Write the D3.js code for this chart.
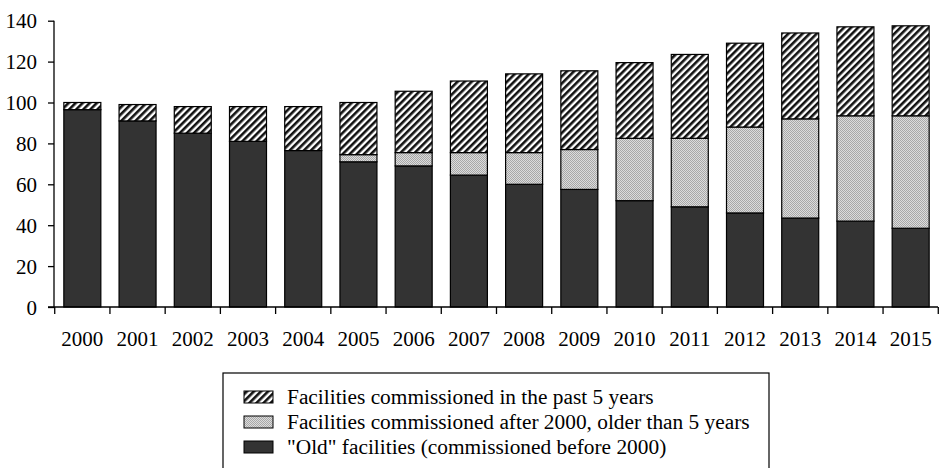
<!DOCTYPE html>
<html><head><meta charset="utf-8">
<script src="https://cdn.jsdelivr.net/npm/d3@7"></script>
<style>body{margin:0;background:#fff}svg{display:block}</style>
</head><body><svg id="c" width="939" height="468"></svg>
<script>
const years = ["2000","2001","2002","2003","2004","2005","2006","2007","2008","2009","2010","2011","2012","2013","2014","2015"];
const oldFacilities = [96.5,91,85,81,76.5,71,69,64.5,60,57.5,52,49,46,43.5,42,38.5];
const after2000Older = [0,0,0,0,0,3.5,6.5,11,15.5,19.5,30.5,33.5,42,48.5,51.5,55];
const past5Years = [3.5,8,13,17,21.5,25.5,30,35,38.5,38.5,37,41,41,42,43.5,44];
const yTicks = [0,20,40,60,80,100,120,140];
const seriesLabels = ["Facilities commissioned in the past 5 years","Facilities commissioned after 2000, older than 5 years","\"Old\" facilities (commissioned before 2000)"];

const FONT = "Liberation Serif";
const svg = d3.select("#c");
const defs = svg.append("defs");
const hatch = defs.append("pattern").attr("id","hatch").attr("patternUnits","userSpaceOnUse")
  .attr("width",5).attr("height",5).attr("patternTransform","rotate(45)");
hatch.append("rect").attr("width",5).attr("height",5).attr("fill","#fff");
hatch.append("rect").attr("width",2.6).attr("height",5).attr("fill","#111");
const dots = defs.append("pattern").attr("id","dots").attr("patternUnits","userSpaceOnUse")
  .attr("width",2).attr("height",2);
dots.append("rect").attr("width",2).attr("height",2).attr("fill","#dcdcdc");
dots.append("rect").attr("width",1).attr("height",1).attr("fill","#a8a8a8");
dots.append("rect").attr("x",1).attr("y",1).attr("width",1).attr("height",1).attr("fill","#a8a8a8");

const x = d3.scaleBand().domain(years).range([55,938]).paddingInner(0.33).paddingOuter(0.16);
const y = d3.scaleLinear().domain([0,140]).range([307,20.7]);

const data = years.map((yr,i)=>({year:yr, old:oldFacilities[i], mid:after2000Older[i], new:past5Years[i]}));
const stack = d3.stack().keys(["old","mid","new"])(data);
const fills = {old:"#333333", mid:"url(#dots)", new:"url(#hatch)"};

stack.forEach(layer=>{
  svg.append("g").selectAll("rect").data(layer.filter(d=>d[1]-d[0]>0)).join("rect")
    .attr("x",d=>x(d.data.year)).attr("width",x.bandwidth())
    .attr("y",d=>y(d[1])).attr("height",d=>y(d[0])-y(d[1]))
    .attr("fill",fills[layer.key]).attr("stroke","#000").attr("stroke-width",1.2);
});

// y axis
const ya = svg.append("g").attr("transform","translate(54,0)")
  .call(d3.axisLeft(y).tickValues(yTicks).tickSize(6).tickPadding(11));
ya.select(".domain").attr("stroke","#000").attr("stroke-width",1.3).attr("d","M0,"+y(140)+"V"+y(0));
ya.selectAll("text").style("font-family",FONT).style("font-size","21px").attr("dy","0.34em").attr("fill","#000");
ya.selectAll("line").attr("stroke","#000").attr("stroke-width",1.3);

// x axis
const xa = svg.append("g").attr("transform","translate(0,307)");
xa.append("line").attr("x1",48).attr("x2",938).attr("stroke","#000").attr("stroke-width",1.3);
const bounds = years.map(yr=>x(yr)-x.step()*x.paddingInner()/2);
bounds.push(x(years[years.length-1])+x.bandwidth()+x.step()*x.paddingInner()/2);
xa.selectAll("line.t").data(bounds).join("line").attr("class","t")
  .attr("x1",d=>d).attr("x2",d=>d).attr("y1",0).attr("y2",7).attr("stroke","#000").attr("stroke-width",1.3);
xa.selectAll("text").data(years).join("text")
  .attr("x",d=>x(d)+x.bandwidth()/2).attr("y",38.5).attr("text-anchor","middle")
  .style("font-family",FONT).style("font-size","21px").text(d=>d);

// legend
const lg = svg.append("g");
lg.append("rect").attr("x",223).attr("y",373).attr("width",546).attr("height",110)
  .attr("fill","#fff").attr("stroke","#000").attr("stroke-width",1.2);
const lfills = ["url(#hatch)","url(#dots)","#333333"];
const ltexts = [];
seriesLabels.forEach((t,i)=>{
  const cy = 397 + i*25;
  lg.append("rect").attr("x",244).attr("y",cy-6).attr("width",29).attr("height",12)
    .attr("fill",lfills[i]).attr("stroke","#000").attr("stroke-width",1);
  ltexts.push(lg.append("text").attr("x",287).attr("y",cy+6.5).style("font-family",FONT).style("font-size","20px").text(t));
});
// fit longest legend label to reference width (~463px)
const w = ltexts[1].node().getComputedTextLength();
const fs = Math.max(16, Math.min(24, 20*463/w));
ltexts.forEach(t=>t.style("font-size",fs+"px"));
</script></body></html>
